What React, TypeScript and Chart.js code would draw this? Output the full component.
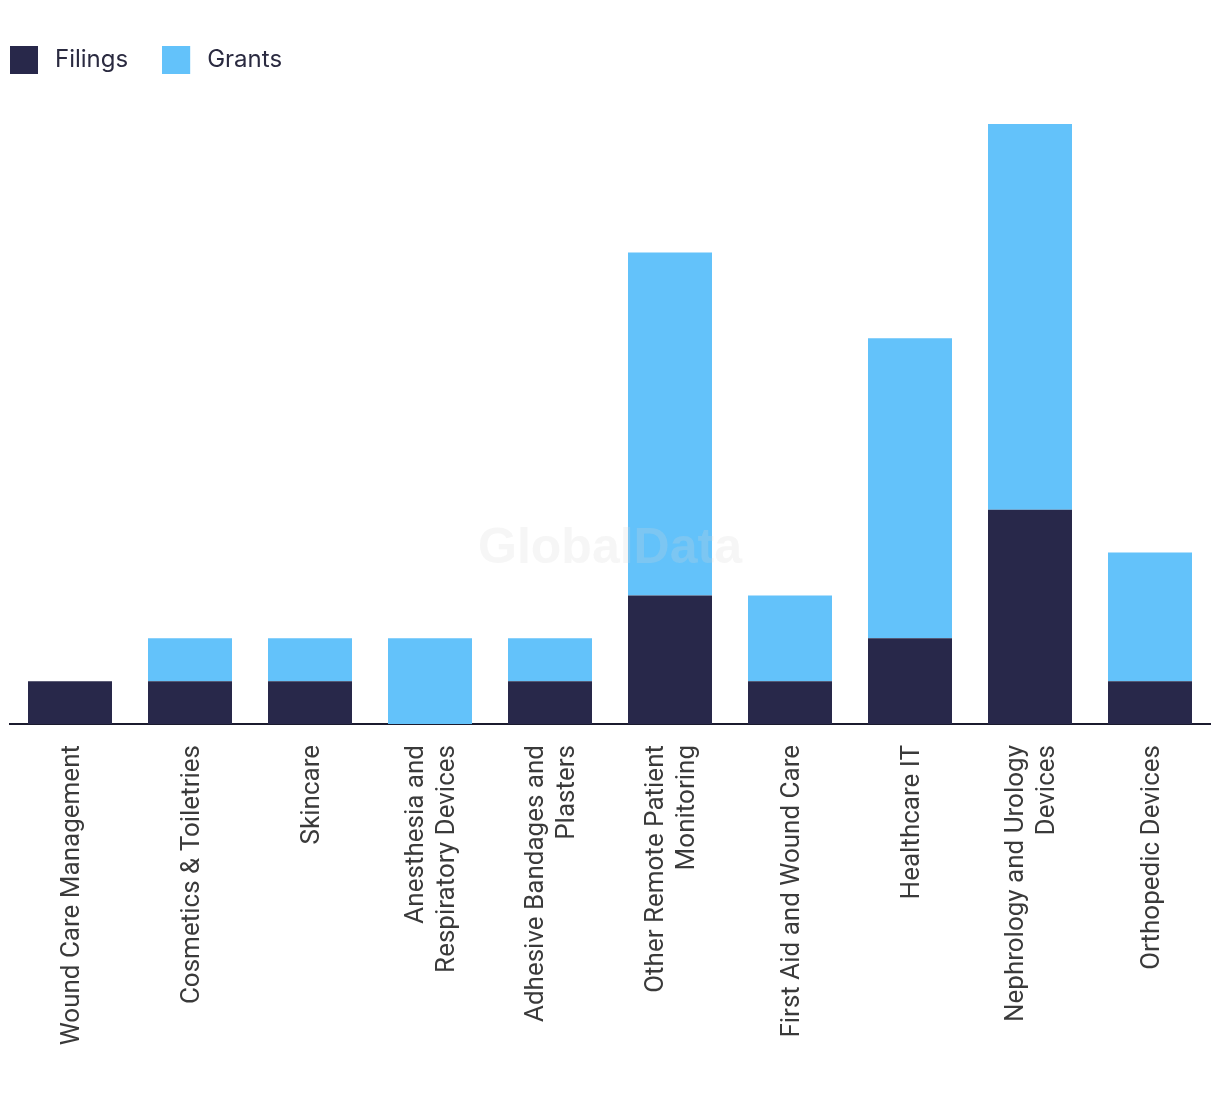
import React, { useEffect, useRef } from "react";
import { Chart, registerables } from "chart.js";

Chart.register(...registerables);

const categories: (string | string[])[] = [
  "Wound Care Management",
  "Cosmetics & Toiletries",
  "Skincare",
  ["Anesthesia and", "Respiratory Devices"],
  ["Adhesive Bandages and", "Plasters"],
  ["Other Remote Patient", "Monitoring"],
  "First Aid and Wound Care",
  "Healthcare IT",
  ["Nephrology and Urology", "Devices"],
  "Orthopedic Devices",
];

const filings = [1, 1, 1, 0, 1, 3, 1, 2, 5, 1];
const grants = [0, 1, 1, 2, 1, 8, 2, 7, 9, 3];

const FILINGS_COLOR = "#28284A";
const GRANTS_COLOR = "#63C2FA";
const TICK_FONT = "26px Roboto, 'Liberation Sans', sans-serif";
const TICK_LINE_HEIGHT = 31;

function makeLegendImage(color: string) {
  const c = document.createElement("canvas");
  c.width = 33;
  c.height = 28;
  const ctx = c.getContext("2d")!;
  ctx.fillStyle = color;
  ctx.fillRect(0, 0, 28, 28);
  return c;
}

const watermark = {
  id: "watermark",
  afterDraw(chart: any) {
    const ctx = chart.ctx;
    ctx.save();
    ctx.font = "bold 50px 'Liberation Sans', Arial, sans-serif";
    ctx.fillStyle = "rgba(215,215,215,0.22)";
    ctx.textAlign = "center";
    ctx.textBaseline = "middle";
    ctx.fillText("GlobalData", chart.width / 2, chart.height / 2 + 2);
    ctx.restore();
  },
};

const categoryLabels = {
  id: "categoryLabels",
  afterDraw(chart: any) {
    const ctx = chart.ctx;
    const xs = chart.scales.x;
    const top = chart.chartArea.bottom + 21;
    ctx.save();
    ctx.font = TICK_FONT;
    ctx.fillStyle = "#3a3a3a";
    ctx.textAlign = "right";
    ctx.textBaseline = "middle";
    categories.forEach((lab, i) => {
      const lines = Array.isArray(lab) ? lab : [lab];
      const x = xs.getPixelForTick(i);
      ctx.save();
      ctx.translate(x, top);
      ctx.rotate(-Math.PI / 2);
      lines.forEach((line, j) => {
        const off = (j - (lines.length - 1) / 2) * TICK_LINE_HEIGHT + 2;
        ctx.fillText(line, 0, off);
      });
      ctx.restore();
    });
    ctx.restore();
  },
};

const legendHeight = {
  id: "legendHeight",
  afterInit(chart: any) {
    const lg = chart.legend;
    if (!lg) return;
    const orig = lg.fit;
    lg.fit = function () {
      orig.call(this);
      this.height = 110;
    };
  },
};

export default function App() {
  const ref = useRef<HTMLCanvasElement>(null);

  useEffect(() => {
    if (!ref.current) return;
    const img1 = makeLegendImage(FILINGS_COLOR);
    const img2 = makeLegendImage(GRANTS_COLOR);
    const chart = new Chart(ref.current, {
      type: "bar",
      data: {
        labels: categories,
        datasets: [
          { label: "Filings", data: filings, backgroundColor: FILINGS_COLOR },
          { label: "Grants", data: grants, backgroundColor: GRANTS_COLOR },
        ],
      },
      options: {
        animation: false,
        responsive: false,
        maintainAspectRatio: false,
        layout: { padding: { left: -24, right: 10, top: 14, bottom: 0 } },
        datasets: { bar: { barPercentage: 0.7, categoryPercentage: 1 } },
        plugins: {
          tooltip: { enabled: false },
          legend: {
            position: "top",
            align: "start",
            labels: {
              usePointStyle: true,
              pointStyleWidth: 33,
              padding: 34,
              font: { size: 24, family: "Inter, 'Noto Sans', sans-serif" },
              color: "#2a2a40",
              generateLabels: (ch: any) => {
                const imgs = [img1, img2];
                return ch.data.datasets.map((ds: any, i: number) => ({
                  text: ds.label,
                  fillStyle: ds.backgroundColor,
                  strokeStyle: ds.backgroundColor,
                  lineWidth: 0,
                  pointStyle: imgs[i],
                  datasetIndex: i,
                  hidden: false,
                  fontColor: "#2a2a40",
                }));
              },
            },
          },
        },
        scales: {
          x: {
            stacked: true,
            grid: { display: false, drawTicks: false },
            border: { display: true, color: "#1b1b2e", width: 2 },
            ticks: { display: false },
            afterFit: (s: any) => {
              s.height = 370;
            },
          },
          y: {
            stacked: true,
            min: 0,
            max: 14,
            grid: { display: false, drawTicks: false },
            border: { display: false },
            ticks: { display: false },
            afterFit: (s: any) => {
              s.width = 34;
            },
          },
        },
      },
      plugins: [legendHeight, categoryLabels, watermark],
    } as any);
    return () => chart.destroy();
  }, []);

  return (
    <div style={{ position: "absolute", left: 0, top: 0, width: 1220, height: 1094, background: "#fff" }}>
      <canvas ref={ref} width={1220} height={1094} style={{ width: 1220, height: 1094 }} />
    </div>
  );
}
